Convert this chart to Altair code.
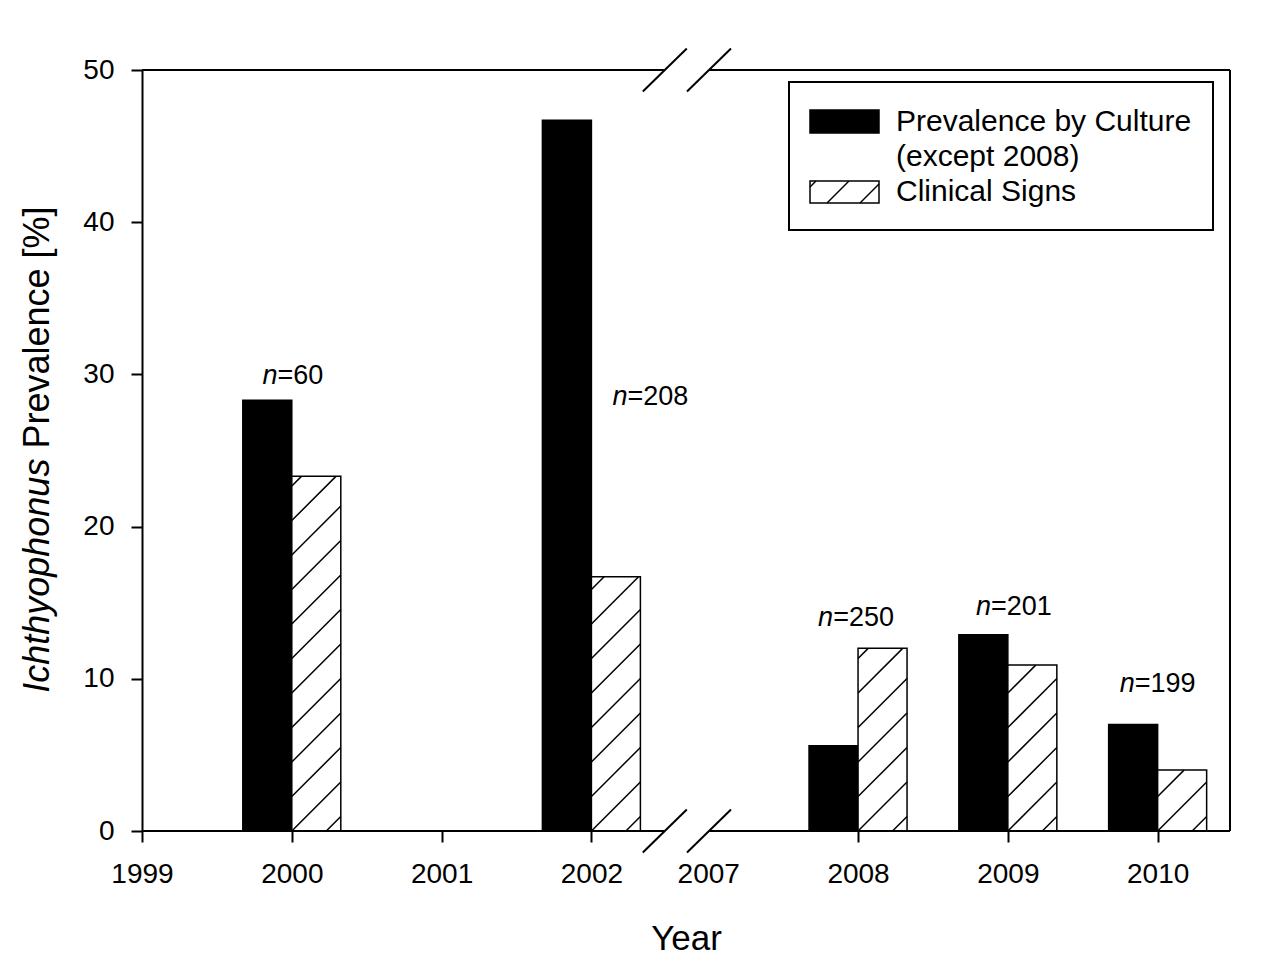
import json
import math
import altair as alt
import pandas as pd

# ---------------- data ----------------
bar_years = [2000, 2002, 2008, 2009, 2010]
culture = [28.3, 46.7, 5.6, 12.9, 7.0]
clinical = [23.3, 16.7, 12.0, 10.9, 4.0]
n_values = ["=60", "=208", "=250", "=201", "=199"]
n_label_shift_px = [1, 59, -2, 6, 0]
n_label_baseline = [29.4, 28.0, 13.5, 14.2, 9.1]
tick_years = [1999, 2000, 2001, 2002, 2007, 2008, 2009, 2010]
y_ticks = [0, 10, 20, 30, 40, 50]
legend_labels = ["Prevalence by Culture", "(except 2008)", "Clinical Signs"]

# ---------------- layout ----------------
FONT = "Liberation Sans"
W, H = 1088, 761
BREAK_GAP = 0.78
X_MAX = 7.263
Y_MAX = 50
PX = W / X_MAX
PY = H / Y_MAX
BAR_PX = 49
HATCH_STEP = 34.5


def pos(year):
    v = year - 1999 if year <= 2002 else year - 2007 + 3 + BREAK_GAP
    return round(v, 4)


def to_dx(px):
    return px / PX


def to_dy(py):
    return (H - py) / PY


def hatch(x0, x1, ybot, ytop, phase=0.0, step=HATCH_STEP):
    w = x1 - x0
    h = ybot - ytop
    segs = []
    kmin = math.floor((-h - phase) / step) - 1
    kmax = math.ceil((w - phase) / step) + 1
    for k in range(kmin, kmax + 1):
        c = phase + k * step
        u1 = max(0.0, c)
        u2 = min(w, h + c)
        if u2 - u1 > 0.8:
            segs.append((x0 + u1, ybot - (u1 - c), x0 + u2, ybot - (u2 - c)))
    return segs


XS = alt.Scale(domain=[0, X_MAX], nice=False, zero=False)
YS = alt.Scale(domain=[0, Y_MAX], nice=False, zero=False)
tick_pos = [pos(y) for y in tick_years]
label_expr = (
    f"{json.dumps([str(y) for y in tick_years])}"
    f"[indexof({json.dumps(tick_pos)}, datum.value)]"
)
XAX = alt.Axis(
    values=tick_pos, labelExpr=label_expr, title="Year", domain=False, grid=False,
    ticks=True, tickSize=11, tickWidth=2, tickColor="black",
    tickOpacity={"condition": {"test": f"datum.value == {pos(2007)}", "value": 0}, "value": 1},
    labelFontSize=28, labelFont=FONT, labelColor="black", labelPadding=18,
    labelFlush=False, labelOverlap=False, labelBound=False,
    titleFontSize=35, titleFont=FONT, titleFontWeight="normal", titleColor="black",
    titleY=118, titleBaseline="alphabetic",
)
YAX = alt.Axis(
    values=y_ticks, title=None, grid=False, domain=True, domainColor="black",
    domainWidth=2, tickSize=11, tickWidth=2, tickColor="black",
    labelFontSize=28, labelFont=FONT, labelColor="black", labelPadding=17,
    labelFlush=False, labelOverlap=False,
)


def X(f):
    return alt.X(f, type="quantitative", scale=XS, axis=XAX)


def Y(f):
    return alt.Y(f, type="quantitative", scale=YS, axis=YAX)


# bars
bars = pd.DataFrame({
    "year": bar_years,
    "culture": culture,
    "clinical": clinical,
})
bars["p"] = [pos(y) for y in bar_years]
bars["c0"] = bars["p"] - to_dx(BAR_PX)
bars["h1"] = bars["p"] + to_dx(BAR_PX)
bars["zero"] = 0.0

culture_layer = alt.Chart(bars).mark_rect(fill="black", stroke="black", strokeWidth=1.5).encode(
    x=X("c0"), x2="p", y=Y("culture"), y2="zero"
)
clinical_layer = alt.Chart(bars).mark_rect(fill="white", stroke="black", strokeWidth=1.5).encode(
    x=X("p"), x2="h1", y=Y("clinical"), y2="zero"
)


def seg_df(segs):
    return pd.DataFrame([
        {"x": to_dx(ax), "y": to_dy(ay), "x2": to_dx(bx), "y2": to_dy(by)}
        for (ax, ay, bx, by) in segs
    ])


# hatch lines for the clinical bars
bar_segs = []
for p, v in zip(bars["p"], clinical):
    x0 = p * PX
    bar_segs += hatch(x0, x0 + BAR_PX, H, H - v * PY)
bar_hatch = alt.Chart(seg_df(bar_segs)).mark_rule(color="black", strokeWidth=1.5).encode(
    x=X("x"), x2="x2", y=Y("y"), y2="y2"
)

# frame with axis break
b1, b2 = 3.49, 3.785
frame_df = pd.DataFrame([
    {"x": 0, "x2": b1, "y": 0, "y2": 0},
    {"x": b2, "x2": X_MAX, "y": 0, "y2": 0},
    {"x": 0, "x2": b1, "y": Y_MAX, "y2": Y_MAX},
    {"x": b2, "x2": X_MAX, "y": Y_MAX, "y2": Y_MAX},
    {"x": X_MAX, "x2": X_MAX, "y": 0, "y2": Y_MAX},
])
brk = []
for b in (b1, b2):
    for yy in (0, Y_MAX):
        brk.append({"x": b - to_dx(22), "x2": b + to_dx(22),
                    "y": yy - 21.5 / PY, "y2": yy + 21.5 / PY})
frame_df = pd.concat([frame_df, pd.DataFrame(brk)], ignore_index=True)
frame_layer = alt.Chart(frame_df).mark_rule(color="black", strokeWidth=2).encode(
    x=X("x"), x2="x2", y=Y("y"), y2="y2"
)

# n labels (italic n + rest)
CW = {"=": 0.584, "0": 0.556, "1": 0.556, "2": 0.556, "5": 0.556, "6": 0.556, "8": 0.556, "9": 0.556}
NFS = 27
nrows = []
for yr, txt, sh, yb in zip(bar_years, n_values, n_label_shift_px, n_label_baseline):
    wn = 0.556 * NFS
    wr = sum(CW[c] for c in txt) * NFS
    join = sh - (wn + wr) / 2 + wn
    nrows.append({"x": pos(yr) + to_dx(join), "y": yb, "rest": txt})
n_df = pd.DataFrame(nrows)
n_italic = alt.Chart(n_df).mark_text(
    text="n", font=FONT, fontSize=NFS, fontStyle="italic", align="right", baseline="alphabetic", color="black"
).encode(x=X("x"), y=Y("y"))
n_rest = alt.Chart(n_df).mark_text(
    font=FONT, fontSize=NFS, align="left", baseline="alphabetic", color="black"
).encode(x=X("x"), y=Y("y"), text="rest:N")

# y-axis title (mixed italic)
one = pd.DataFrame({"a": [0]})
TFS = 36
ital_w = 6.55 * TFS
total_w = 13.55 * TFS
bottom = H / 2 + total_w / 2
join_y = bottom - ital_w
ytitle1 = alt.Chart(one).mark_text(
    text="Ichthyophonus", font=FONT, fontSize=TFS, fontStyle="italic", angle=270,
    align="right", baseline="alphabetic", color="black"
).encode(x=alt.value(-93), y=alt.value(join_y))
ytitle2 = alt.Chart(one).mark_text(
    text="Prevalence [%]", font=FONT, fontSize=TFS, angle=270,
    align="left", baseline="alphabetic", color="black"
).encode(x=alt.value(-93), y=alt.value(join_y - 0.278 * TFS))

# legend
leg_box = alt.Chart(one).mark_rect(fill="white", stroke="black", strokeWidth=2).encode(
    x=alt.value(647), x2=alt.value(1071), y=alt.value(12), y2=alt.value(160)
)
leg_black = alt.Chart(one).mark_rect(fill="black", stroke="black", strokeWidth=1.5).encode(
    x=alt.value(668), x2=alt.value(737), y=alt.value(40), y2=alt.value(63)
)
leg_hatch = alt.Chart(one).mark_rect(fill="white", stroke="black", strokeWidth=1.5).encode(
    x=alt.value(668), x2=alt.value(737), y=alt.value(111), y2=alt.value(133)
)
leg_hatch_lines = alt.Chart(seg_df(hatch(668, 737, 133, 111, phase=17, step=33))).mark_rule(
    color="black", strokeWidth=1.5
).encode(x=X("x"), x2="x2", y=Y("y"), y2="y2")
leg_texts = []
for txt, yb in zip(legend_labels, [61, 96, 131]):
    leg_texts.append(alt.Chart(one).mark_text(
        text=txt, font=FONT, fontSize=30, align="left", baseline="alphabetic", color="black"
    ).encode(x=alt.value(754), y=alt.value(yb)))

chart = alt.layer(
    culture_layer, clinical_layer, bar_hatch,
    frame_layer, n_italic, n_rest, ytitle1, ytitle2,
    leg_box, leg_black, leg_hatch, leg_hatch_lines,
    *leg_texts,
).properties(
    width=W, height=H,
    autosize=alt.AutoSizeParams(type="none"),
    padding={"left": 134, "top": 62, "right": 20, "bottom": 130},
    background="white",
).configure_view(stroke=None)

chart.save("out.html", embed_options={"renderer": "svg", "actions": False})
